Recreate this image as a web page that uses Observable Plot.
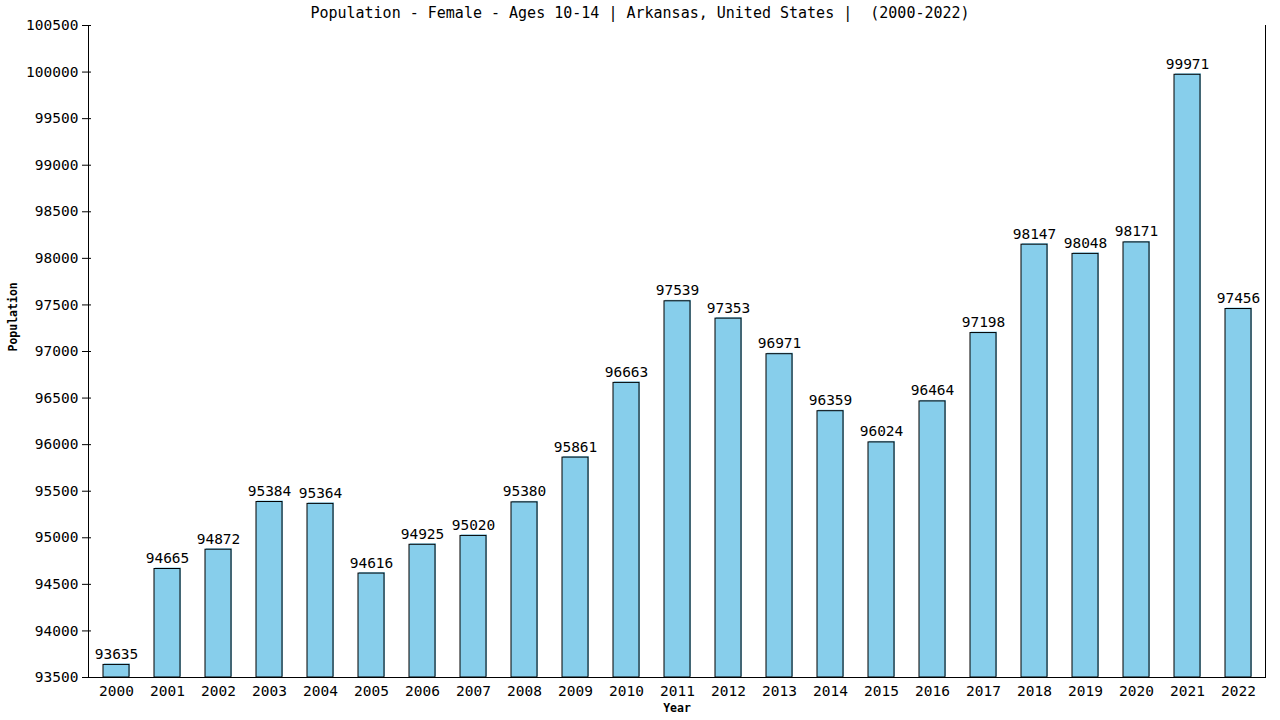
<!DOCTYPE html>
<html>
<head>
<meta charset="utf-8">
<script src="https://cdn.jsdelivr.net/npm/d3@7"></script>
<script src="https://cdn.jsdelivr.net/npm/@observablehq/plot@0.6"></script>
<style>
  body { margin: 0; background: #fff; }
  #wrap { position: relative; width: 1280px; height: 720px; }
  #title { position: absolute; left: 0; top: 4px; width: 1280px; text-align: center;
           font: 15px "DejaVu Sans Mono", monospace; color: #000; white-space: pre; }
  svg { font-family: "DejaVu Sans Mono", monospace; }
</style>
</head>
<body>
<div id="wrap">
  <div id="title">Population - Female - Ages 10-14 | Arkansas, United States |  (2000-2022)</div>
  <div id="chart"></div>
</div>
<script>
const years = ["2000","2001","2002","2003","2004","2005","2006","2007","2008","2009","2010","2011","2012","2013","2014","2015","2016","2017","2018","2019","2020","2021","2022"];
const values = [93635,94665,94872,95384,95364,94616,94925,95020,95380,95861,96663,97539,97353,96971,96359,96024,96464,97198,98147,98048,98171,99971,97456];
const yTicks = [93500,94000,94500,95000,95500,96000,96500,97000,97500,98000,98500,99000,99500,100000,100500];
const yMin = 93500, yMax = 100500;

const data = years.map((y, i) => ({year: y, value: values[i]}));

const chart = Plot.plot({
  width: 1280,
  height: 720,
  marginLeft: 88,
  marginRight: 15,
  marginTop: 25,
  marginBottom: 43,
  style: {fontFamily: "'DejaVu Sans Mono', monospace", fontSize: "14px", background: "#fff", color: "#000"},
  x: {domain: years, paddingInner: 0.5, paddingOuter: 0.25, label: null},
  y: {domain: [yMin, yMax], label: null},
  marks: [
    Plot.barY(data, {x: "year", y1: yMin, y2: "value", fill: "#87CEEB", dx: 1, dy: -1}),
    Plot.barY(data, {x: "year", y1: yMin, y2: "value", fill: "#87CEEB", stroke: "#000", strokeWidth: 1}),
    Plot.text(data, {x: "year", y: "value", text: d => String(d.value), dy: -6, lineAnchor: "bottom", fontSize: 14.5, fill: "#000"}),
    Plot.axisY({ticks: yTicks, tickFormat: "d", tickSize: 9, dx: 3, tickPadding: 4, fontSize: 14.5, label: null}),
    Plot.axisX({tickSize: 0, tickPadding: 8, fontSize: 14.5, label: null}),
    Plot.frame({anchor: "left", stroke: "#000"}),
    Plot.frame({anchor: "right", stroke: "#000"}),
    Plot.frame({anchor: "bottom", stroke: "#000"}),
    Plot.text(["Population"], {frameAnchor: "left", dx: -75, rotate: -90, fontWeight: "bold", fontSize: 11.5, fill: "#000"}),
    Plot.text(["Year"], {frameAnchor: "bottom", dy: 34, fontWeight: "bold", fontSize: 11.5, fill: "#000"})
  ]
});
document.getElementById("chart").appendChild(chart);
</script>
</body>
</html>
